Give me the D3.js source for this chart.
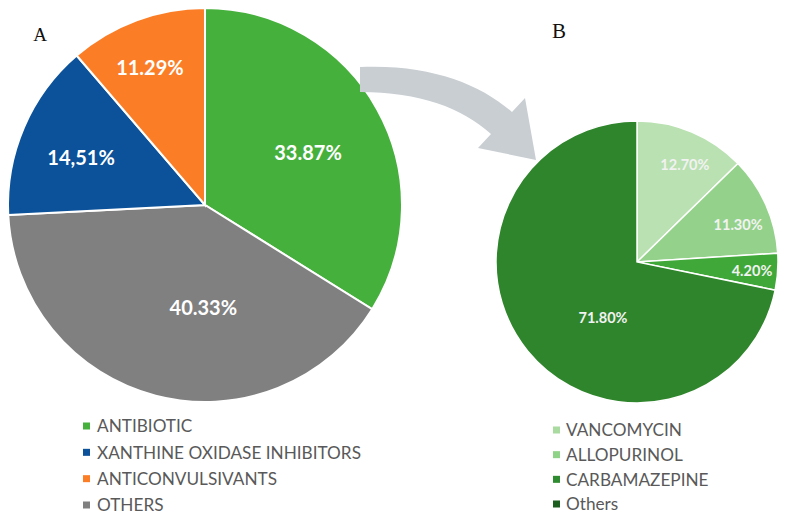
<!DOCTYPE html>
<html>
<head>
<meta charset="utf-8">
<script src="https://cdn.jsdelivr.net/npm/d3@7"></script>
<style>
  html, body { margin: 0; padding: 0; background: #ffffff; }
  svg { display: block; }
</style>
</head>
<body>
<svg id="chart" width="786" height="522"></svg>
<script>
// ---- Data ----
const catsA = ["ANTIBIOTIC", "OTHERS", "XANTHINE OXIDASE INHIBITORS", "ANTICONVULSIVANTS"];
const valsA = [33.87, 40.33, 14.51, 11.29];
const labelsA = ["33.87%", "40.33%", "14,51%", "11.29%"];
const legendOrderA = ["ANTIBIOTIC", "XANTHINE OXIDASE INHIBITORS", "ANTICONVULSIVANTS", "OTHERS"];

const catsB = ["VANCOMYCIN", "ALLOPURINOL", "CARBAMAZEPINE", "Others"];
const valsB = [12.70, 11.30, 4.20, 71.80];
const labelsB = ["12.70%", "11.30%", "4.20%", "71.80%"];

// ---- Styles ----
const colorA = d3.scaleOrdinal().domain(catsA).range(["#46b03d", "#808080", "#0b529a", "#fb7e27"]);
const colorB = d3.scaleOrdinal().domain(catsB).range(["#b9e1b1", "#94d28b", "#3fa838", "#2f852b"]);
const legendColorB = d3.scaleOrdinal().domain(catsB).range(["#a9dba1", "#8fd388", "#2f8b2f", "#1c5e1e"]);

const svg = d3.select("#chart");
const pie = d3.pie().sort(null).value(d => d.v);

// label placement: angular offset (deg) from slice bisector and radius fraction
function placeLabel(d, r, offDeg, frac) {
  const a = (d.startAngle + d.endAngle) / 2 + offDeg * Math.PI / 180, rr = r * frac;
  return `translate(${rr * Math.sin(a)},${-rr * Math.cos(a)})`;
}

// ---- Pie A ----
const cxA = 205, cyA = 205, rA = 197;
const gA = svg.append("g").attr("transform", `translate(${cxA},${cyA})`);
const arcA = d3.arc().innerRadius(0).outerRadius(rA);
const dataA = pie(catsA.map((c, i) => ({ c, v: valsA[i], l: labelsA[i] })));
gA.selectAll("path").data(dataA).join("path")
  .attr("d", arcA).attr("fill", d => colorA(d.data.c))
  .attr("stroke", "#ffffff").attr("stroke-width", 2);
const offA = [2.2, -13.6, -2.4, -1.6], fracA = [0.586, 0.523, 0.673, 0.749];
gA.selectAll("text").data(dataA).join("text")
  .attr("transform", (d, i) => placeLabel(d, rA, offA[i], fracA[i]))
  .attr("text-anchor", "middle").attr("dy", "0.36em")
  .attr("font-family", "Lato, 'Open Sans', sans-serif").attr("font-weight", 700)
  .attr("font-size", 20).attr("fill", "#ffffff")
  .text(d => d.data.l);

// ---- Pie B ----
const cxB = 637, cyB = 262, rB = 141;
const gB = svg.append("g").attr("transform", `translate(${cxB},${cyB})`);
const arcB = d3.arc().innerRadius(0).outerRadius(rB);
const dataB = pie(catsB.map((c, i) => ({ c, v: valsB[i], l: labelsB[i] })));
gB.selectAll("path").data(dataB).join("path")
  .attr("d", arcB).attr("fill", d => colorB(d.data.c))
  .attr("stroke", "#ffffff").attr("stroke-width", 1.5);
const offB = [3.4, 3.9, 0.5, -19.5], fracB = [0.767, 0.763, 0.818, 0.465];
gB.selectAll("text").data(dataB).join("text")
  .attr("transform", (d, i) => placeLabel(d, rB, offB[i], fracB[i]))
  .attr("text-anchor", "middle").attr("dy", "0.36em")
  .attr("font-family", "Lato, 'Open Sans', sans-serif").attr("font-weight", 700)
  .attr("font-size", 14.5).attr("fill", "#f2f2f2")
  .text(d => d.data.l);

// ---- Arrow ----
const p = d3.path();
p.moveTo(360, 67);
p.bezierCurveTo(430, 64, 480, 84, 512, 112);
p.lineTo(525, 98);
p.lineTo(536, 160);
p.lineTo(478, 148);
p.lineTo(491, 134);
p.bezierCurveTo(462, 108, 420, 92, 360, 92);
p.closePath();
svg.append("path").attr("d", p.toString()).attr("fill", "#c9ced3");

// ---- Panel titles ----
svg.append("text").attr("x", 40).attr("y", 41).attr("text-anchor", "middle")
  .attr("font-family", "'Liberation Serif', 'DejaVu Serif', serif").attr("font-size", 19)
  .attr("fill", "#111").text("A");
svg.append("text").attr("x", 559).attr("y", 38).attr("text-anchor", "middle")
  .attr("font-family", "'Liberation Serif', 'DejaVu Serif', serif").attr("font-size", 21)
  .attr("fill", "#111").text("B");

// ---- Legends ----
const yLegA = d3.scalePoint().domain(legendOrderA).range([426, 505]);
const legA = svg.append("g");
legA.selectAll("rect").data(legendOrderA).join("rect")
  .attr("x", 83).attr("y", d => yLegA(d) - 3.5).attr("width", 7).attr("height", 7)
  .attr("fill", d => colorA(d));
legA.selectAll("text").data(legendOrderA).join("text")
  .attr("x", 97).attr("y", d => yLegA(d)).attr("dy", "0.36em")
  .attr("font-family", "Lato, 'Open Sans', sans-serif").attr("font-size", 17.2)
  .attr("fill", "#595959").text(d => d);

const yLegB = d3.scalePoint().domain(catsB).range([430, 504]);
const legB = svg.append("g");
legB.selectAll("rect").data(catsB).join("rect")
  .attr("x", 553).attr("y", d => yLegB(d) - 3.5).attr("width", 7).attr("height", 7)
  .attr("fill", d => legendColorB(d));
legB.selectAll("text").data(catsB).join("text")
  .attr("x", 566).attr("y", d => yLegB(d)).attr("dy", "0.36em")
  .attr("font-family", "Lato, 'Open Sans', sans-serif").attr("font-size", 17.2)
  .attr("fill", "#595959").text(d => d);
</script>
</body>
</html>
